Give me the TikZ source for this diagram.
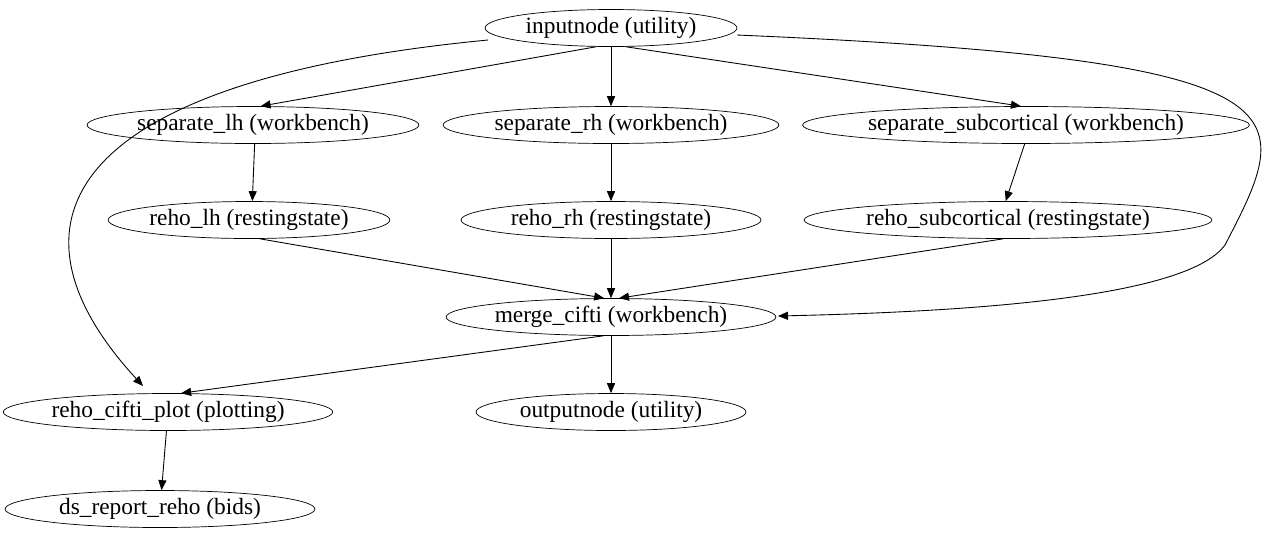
\documentclass[tikz,border=0pt]{standalone}
\usepackage{fontspec}
\setmainfont{Liberation Serif}
\usetikzlibrary{arrows.meta,shapes.geometric}
\begin{document}
\begin{tikzpicture}[x=0.02cm,y=-0.02cm,
  nd/.style={draw,ellipse,inner sep=0pt,font=\fontsize{13.3}{15}\selectfont},
  ed/.style={-{Triangle[length=5.7pt,width=4.6pt]},line width=0.5pt}]
\useasboundingbox (0,0) rectangle (1277,539);
\def\N#1#2#3#4#5{\node[nd,minimum width=#4*0.04cm,minimum height=0.74cm] (#1) at (#2,#3) {#5};}
\N{in}{611}{28}{126}{inputnode (utility)}
\N{slh}{253}{125}{166}{separate\_lh (workbench)}
\N{srh}{611}{125}{168}{separate\_rh (workbench)}
\N{ssc}{1026}{125}{222}{separate\_subcortical (workbench)}
\N{rlh}{249}{220}{126}{reho\_lh (restingstate)}
\N{rrh}{611}{220}{150}{reho\_rh (restingstate)}
\N{rsc}{1008}{220}{204}{reho\_subcortical (restingstate)}
\N{mc}{611}{317}{165}{merge\_cifti (workbench)}
\N{pl}{168}{412}{164}{reho\_cifti\_plot (plotting)}
\N{out}{611}{412}{135}{outputnode (utility)}
\N{ds}{160}{509}{155}{ds\_report\_reho (bids)}
\draw[ed] (in.-128) -- (slh.68);
\draw[ed] (in) -- (srh);
\draw[ed] (in.-52) -- (ssc.105);
\draw[ed] (slh.-85) -- (rlh.80);
\draw[ed] (srh) -- (rrh);
\draw[ed] (ssc.-94) -- (rsc.97);
\draw[ed] (rlh.-60) -- (mc.110);
\draw[ed] (rrh) -- (mc);
\draw[ed] (rsc.-105) -- (mc.67);
\draw[ed] (mc.-112) -- (pl.55);
\draw[ed] (mc) -- (out);
\draw[ed] (pl) -- (ds);
\coordinate (a1) at (488,40);
\coordinate (a2) at (143,386);
\draw[ed] (a1) .. controls (70,80) and (-10,220) .. (a2);
\coordinate (b1) at (737,35);
\coordinate (b2) at (1225,245);
\coordinate (b3) at (778,316);
\draw[line width=0.5pt] (b1) .. controls (1320,60) and (1295,110) .. (b2);
\draw[ed] (b2) .. controls (1185,300) and (950,312) .. (b3);
\end{tikzpicture}
\end{document}
